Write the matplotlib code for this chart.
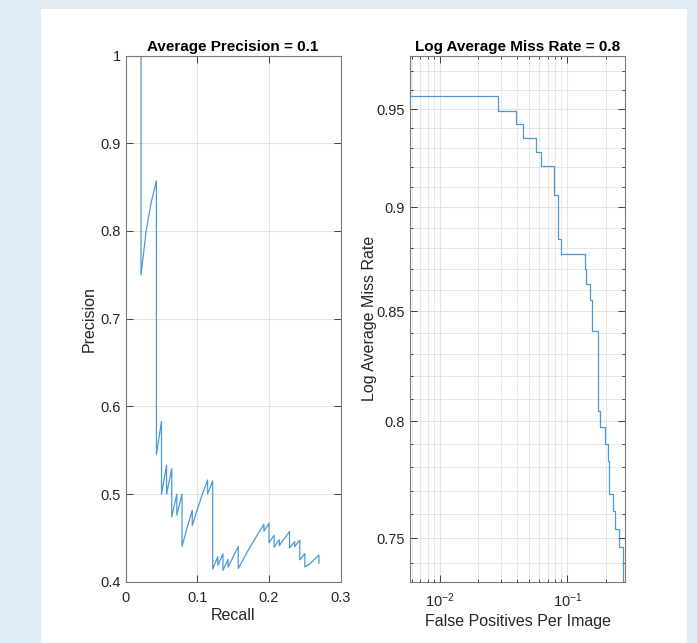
import numpy as np
import matplotlib
matplotlib.use("Agg")
import matplotlib.pyplot as plt
from matplotlib.patches import Rectangle
from matplotlib.ticker import FixedLocator, FuncFormatter, NullFormatter

plt.rcParams["font.family"] = ["Liberation Sans", "DejaVu Sans"]
plt.rcParams["mathtext.fontset"] = "custom"
plt.rcParams["mathtext.rm"] = "Liberation Sans"
plt.rcParams["mathtext.default"] = "regular"

# --- Precision / recall curve (vertices) ---
recall = [0.0, 0.0214, 0.0214, 0.0286, 0.0357, 0.0429, 0.0429, 0.05, 0.05,
          0.0571, 0.0571, 0.0643, 0.0643, 0.0714, 0.0714, 0.0786, 0.0786,
          0.0857, 0.0929, 0.0929, 0.1, 0.1071, 0.1143, 0.1143, 0.1214, 0.1214,
          0.1286, 0.1286, 0.1357, 0.1357, 0.1429, 0.1429, 0.15, 0.1571, 0.1571,
          0.1643, 0.1714, 0.1786, 0.1857, 0.1929, 0.1929, 0.2, 0.2, 0.2071,
          0.2071, 0.2143, 0.2143, 0.2214, 0.2286, 0.2286, 0.2357, 0.2357,
          0.2429, 0.2429, 0.25, 0.25, 0.2571, 0.2696, 0.2696]
precision = [1.0, 1.0, 0.75, 0.80, 0.833, 0.857, 0.545, 0.583, 0.5,
             0.533, 0.5, 0.529, 0.474, 0.5, 0.476, 0.5, 0.44,
             0.4615, 0.4815, 0.464, 0.4828, 0.5, 0.516, 0.5, 0.515, 0.4146,
             0.4286, 0.4186, 0.4318, 0.413, 0.4255, 0.4167, 0.4286, 0.44, 0.4151,
             0.4259, 0.4364, 0.4464, 0.4561, 0.4655, 0.4576, 0.4667, 0.4444, 0.4531,
             0.4394, 0.4478, 0.4412, 0.4493, 0.4571, 0.4384, 0.4459, 0.44,
             0.4474, 0.425, 0.4321, 0.4167, 0.4205, 0.4305, 0.421]
ap = 0.1

# --- Miss rate vs false positives per image (stairs) ---
fppi = [0.0058, 0.0058, 0.0284, 0.0395, 0.0451, 0.0565, 0.0621, 0.0787,
        0.0845, 0.0898, 0.1385, 0.1415, 0.1507, 0.157, 0.1754, 0.1808,
        0.1977, 0.2099, 0.2138, 0.2296, 0.2371, 0.2558, 0.2754]
miss_rate = [0.98, 0.9567, 0.949, 0.9422, 0.935, 0.9276, 0.9205, 0.9059,
             0.8842, 0.8771, 0.8699, 0.8628, 0.8551, 0.8407, 0.8043, 0.7975,
             0.790, 0.7828, 0.7684, 0.7613, 0.754, 0.7465, 0.72]
lamr = 0.8

line_color = "#4a9ad8"
axis_color = "#262626"
grid_color = "#e3e3e3"

fig = plt.figure(figsize=(6.97, 6.43), dpi=100, facecolor="#dfecf6")
fig.add_artist(Rectangle((41 / 697, 0), 646 / 697, 1 - 9 / 643,
                         transform=fig.transFigure, facecolor="white",
                         edgecolor="none", zorder=-10))

ax1 = fig.add_axes([0.1803, 0.0953, 0.3085, 0.8183])
ax2 = fig.add_axes([0.5882, 0.0953, 0.3090, 0.8183])


def matlab_style(ax):
    ax.set_axisbelow(True)
    for sp in ax.spines.values():
        sp.set_color("#7a7a7a")
        sp.set_linewidth(0.8)
    ax.tick_params(which="both", direction="in", top=True, right=True,
                   colors=axis_color, labelsize=10.5, width=0.6)
    ax.tick_params(which="major", length=5)
    ax.tick_params(which="minor", length=2.5)
    ax.tick_params(axis="x", which="both", pad=7)
    ax.tick_params(axis="y", which="both", pad=3.5)
    ax.grid(True, which="major", color=grid_color, lw=0.8)


# left: precision-recall
ax1.plot(recall, precision, color=line_color, lw=0.9)
ax1.set_xlim(0, 0.3)
ax1.set_ylim(0.4, 1.0)
ax1.set_xticks([0, 0.1, 0.2, 0.3])
ax1.set_xticklabels(["0", "0.1", "0.2", "0.3"])
ax1.set_yticks([0.4, 0.5, 0.6, 0.7, 0.8, 0.9, 1.0])
ax1.set_yticklabels(["0.4", "0.5", "0.6", "0.7", "0.8", "0.9", "1"])
matlab_style(ax1)
ax1.set_xlabel("Recall", fontsize=11.5, color=axis_color, labelpad=2)
ax1.set_ylabel("Precision", fontsize=11.5, color=axis_color, labelpad=3)
ax1.set_title(f"Average Precision = {ap:.1f}", fontsize=11,
              fontweight="bold", pad=3)

# right: miss rate (log-log)
ax2.step(fppi, miss_rate, where="post", color=line_color, lw=0.9)
ax2.set_xscale("log")
ax2.set_yscale("log")
ax2.set_xlim(0.0058, 0.286)
ax2.set_ylim(0.7323, 0.9784)
ax2.yaxis.set_major_locator(FixedLocator([0.75, 0.8, 0.85, 0.9, 0.95]))
ax2.yaxis.set_major_formatter(FuncFormatter(lambda v, p: f"{v:g}"))
ax2.yaxis.set_minor_locator(FixedLocator(
    [v / 100 for v in range(73, 98) if v not in (75, 80, 85, 90, 95)]))
ax2.yaxis.set_minor_formatter(NullFormatter())
matlab_style(ax2)
ax2.grid(True, which="minor", color=grid_color, lw=0.6)
ax2.set_xlabel("False Positives Per Image", fontsize=11.5, color=axis_color,
               labelpad=3)
ax2.set_ylabel("Log Average Miss Rate", fontsize=11.5, color=axis_color,
               labelpad=0)
ax2.set_title(f"Log Average Miss Rate = {lamr:.1f}", fontsize=11,
              fontweight="bold", pad=3)

fig.savefig("out.png", dpi=100, facecolor=fig.get_facecolor())
